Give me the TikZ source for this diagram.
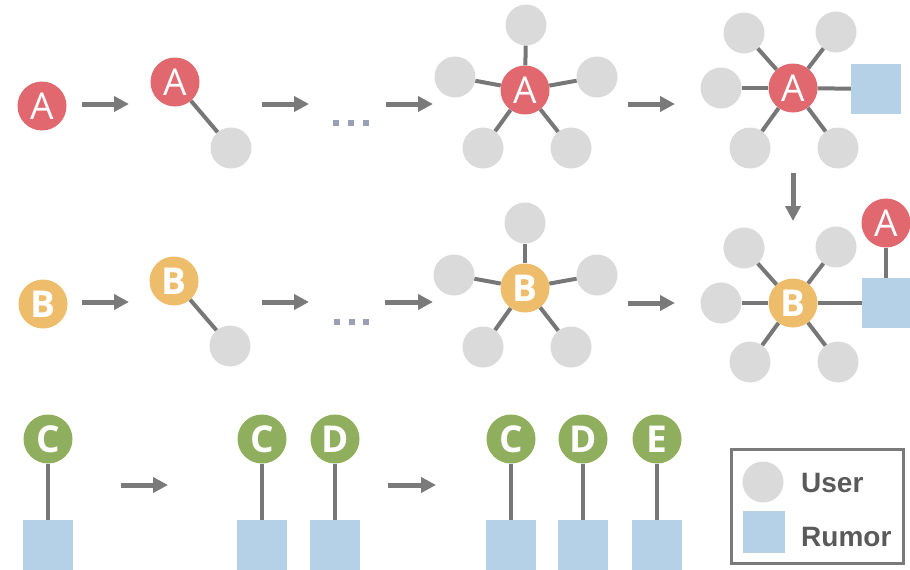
\documentclass[tikz,border=0pt]{standalone}
\usepackage{fontspec}
\setmainfont{Open Sans}
\newfontfamily\legendfont{Liberation Sans}
\usetikzlibrary{arrows.meta}
\definecolor{cred}{HTML}{E0686E}
\definecolor{cyel}{HTML}{EDBD6B}
\definecolor{cgrn}{HTML}{8FAE5E}
\definecolor{cusr}{HTML}{DADADA}
\definecolor{crum}{HTML}{B5D1E7}
\definecolor{cedge}{HTML}{777777}
\definecolor{carrow}{HTML}{7A7A7A}
\definecolor{cdots}{HTML}{9A9FB5}
\definecolor{ctext}{HTML}{5A5A5A}
\tikzset{
  actor/.style={circle, inner sep=0pt, minimum size=49pt, text=white, font=\fontsize{37}{37}\selectfont},
  redact/.style={actor, fill=cred},
  yelact/.style={actor, fill=cyel, font=\fontsize{37}{37}\selectfont\bfseries},
  grnact/.style={actor, fill=cgrn, font=\fontsize{37}{37}\selectfont\bfseries},
  user/.style={circle, inner sep=0pt, minimum size=41pt, fill=cusr},
  rumor/.style={rectangle, inner sep=0pt, minimum size=50pt, fill=crum},
  edge/.style={draw=cedge, line width=4pt},
  flow/.style={draw=carrow, line width=5pt, -{Triangle[length=15pt,width=15pt]}},
  dotsq/.style={rectangle, inner sep=0pt, minimum size=6pt, fill=cdots},
}
\begin{document}
\begin{tikzpicture}[x=1pt,y=-1pt]
\useasboundingbox (0,0) rectangle (910,570);
\clip (0,0) rectangle (910,570);

% ---------- Row 1 ----------
\node[redact] (a1) at (42,106) {A};
\coordinate (r1a1s) at (82,104); \coordinate (r1a1e) at (129,104);
\draw[flow] (r1a1s) -- (r1a1e);
\node[redact] (a2) at (175,82) {A};
\node[user] (a2u) at (231,148) {};
\draw[edge] (a2) -- (a2u);
\coordinate (r1a2s) at (262,104); \coordinate (r1a2e) at (309,104);
\draw[flow] (r1a2s) -- (r1a2e);
\node[dotsq] (r1d1) at (336,123) {};
\node[dotsq] (r1d2) at (351,123) {};
\node[dotsq] (r1d3) at (366,123) {};
\coordinate (r1a3s) at (386,104); \coordinate (r1a3e) at (433,104);
\draw[flow] (r1a3s) -- (r1a3e);
% star 1
\node[redact] (s1) at (525,90) {A};
\node[user] (s1t) at (526,25) {};
\node[user] (s1l) at (455,77) {};
\node[user] (s1r) at (597,77) {};
\node[user] (s1bl) at (483,148) {};
\node[user] (s1br) at (571,148) {};
\foreach \n in {s1t,s1l,s1r,s1bl,s1br} \draw[edge] (s1) -- (\n);
\coordinate (r1a4s) at (628,104); \coordinate (r1a4e) at (675,104);
\draw[flow] (r1a4s) -- (r1a4e);
% star 2
\node[redact] (s2) at (793,88) {A};
\node[user] (s2tl) at (744,33) {};
\node[user] (s2tr) at (836,32) {};
\node[user] (s2l) at (721,88) {};
\node[user] (s2bl) at (750,148) {};
\node[user] (s2br) at (838,148) {};
\node[rumor] (s2q) at (876,89) {};
\foreach \n in {s2tl,s2tr,s2l,s2bl,s2br} \draw[edge] (s2) -- (\n);
\draw[edge] (s2) -- (s2q);
% down arrow
\coordinate (dns) at (793,173); \coordinate (dne) at (793,221);
\draw[flow] (dns) -- (dne);

% ---------- Row 2 ----------
\node[yelact] (b1) at (43,304) {B};
\coordinate (r2a1s) at (82,302); \coordinate (r2a1e) at (129,302);
\draw[flow] (r2a1s) -- (r2a1e);
\node[yelact] (b2) at (174,281) {B};
\node[user] (b2u) at (230,346) {};
\draw[edge] (b2) -- (b2u);
\coordinate (r2a2s) at (262,302); \coordinate (r2a2e) at (309,302);
\draw[flow] (r2a2s) -- (r2a2e);
\node[dotsq] (r2d1) at (337,322) {};
\node[dotsq] (r2d2) at (352,322) {};
\node[dotsq] (r2d3) at (366,322) {};
\coordinate (r2a3s) at (385,302); \coordinate (r2a3e) at (433,302);
\draw[flow] (r2a3s) -- (r2a3e);
% star B
\node[yelact] (sb) at (525,288) {B};
\node[user] (sbt) at (525,223) {};
\node[user] (sbl) at (454,275) {};
\node[user] (sbr) at (597,275) {};
\node[user] (sbbl) at (483,347) {};
\node[user] (sbbr) at (571,347) {};
\foreach \n in {sbt,sbl,sbr,sbbl,sbbr} \draw[edge] (sb) -- (\n);
\coordinate (r2a4s) at (628,303); \coordinate (r2a4e) at (675,303);
\draw[flow] (r2a4s) -- (r2a4e);
% star 3
\node[yelact] (s3) at (793,303) {B};
\node[user] (s3tl) at (744,248) {};
\node[user] (s3tr) at (836,247) {};
\node[user] (s3l) at (721,303) {};
\node[user] (s3bl) at (750,362) {};
\node[user] (s3br) at (838,362) {};
\node[rumor] (s3q) at (887,303) {};
\foreach \n in {s3tl,s3tr,s3l,s3bl,s3br} \draw[edge] (s3) -- (\n);
\draw[edge] (s3) -- (s3q);
\node[redact] (s3a) at (886,223) {A};
\draw[edge] (s3a) -- (s3a |- s3q.north);

% ---------- Row 3 ----------
\node[grnact] (c1) at (48,439) {C};
\node[rumor] (c1q) at (48,545) {};
\draw[edge] (c1) -- (c1q);
\coordinate (r3a1s) at (121,485); \coordinate (r3a1e) at (168,485);
\draw[flow] (r3a1s) -- (r3a1e);
\node[grnact] (c2) at (262,439) {C};
\node[rumor] (c2q) at (262,545) {};
\draw[edge] (c2) -- (c2q);
\node[grnact] (d2) at (335,439) {D};
\node[rumor] (d2q) at (335,545) {};
\draw[edge] (d2) -- (d2q);
\coordinate (r3a2s) at (388,485); \coordinate (r3a2e) at (436,485);
\draw[flow] (r3a2s) -- (r3a2e);
\node[grnact] (c3) at (511,439) {C};
\node[rumor] (c3q) at (511,545) {};
\draw[edge] (c3) -- (c3q);
\node[grnact] (d3) at (583,439) {D};
\node[rumor] (d3q) at (583,545) {};
\draw[edge] (d3) -- (d3q);
\node[grnact] (e3) at (657,439) {E};
\node[rumor] (e3q) at (657,545) {};
\draw[edge] (e3) -- (e3q);

% ---------- Legend ----------
\node[draw=carrow, line width=3.5pt, rectangle, minimum width=172pt, minimum height=114pt, inner sep=0pt] (leg) at (817.5,506.5) {};
\node[user] (legu) at (763,482) {};
\node[rectangle, inner sep=0pt, minimum size=42pt, fill=crum] (legr) at (764,532) {};
\node[anchor=west, inner sep=0pt, text=ctext, font=\legendfont\bfseries\fontsize{28}{28}\selectfont] (legut) at (801,483) {User};
\node[anchor=west, inner sep=0pt, text=ctext, font=\legendfont\bfseries\fontsize{28}{28}\selectfont] (legrt) at (801,537) {Rumor};
\end{tikzpicture}
\end{document}
